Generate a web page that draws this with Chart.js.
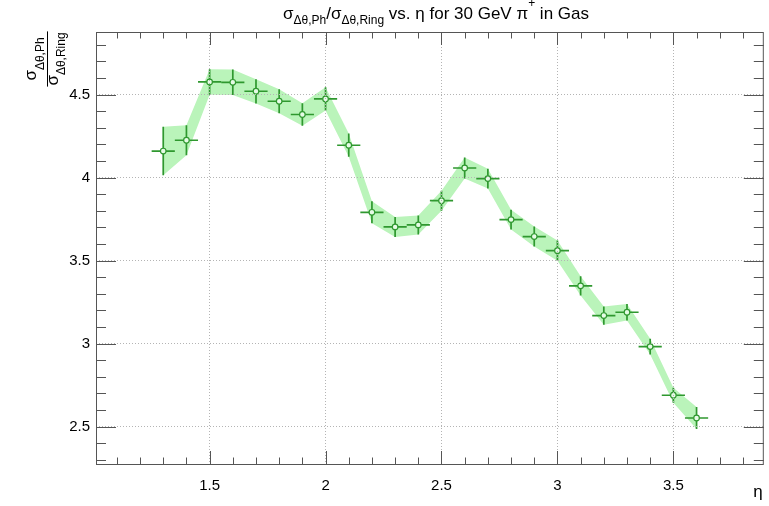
<!DOCTYPE html>
<html>
<head>
<meta charset="utf-8">
<script src="https://cdn.jsdelivr.net/npm/chart.js@4.4.1/dist/chart.umd.min.js"></script>
<style>
  html, body { margin: 0; padding: 0; background: #fff; }
  #wrap { width: 769px; height: 506px; }
</style>
</head>
<body>
<div id="wrap"><canvas id="c" width="769" height="506"></canvas></div>
<script>
// eta bin centres, measured ratio and its error
const eta = [1.3, 1.4, 1.5, 1.6, 1.7, 1.8, 1.9, 2.0, 2.1, 2.2, 2.3, 2.4,
             2.5, 2.6, 2.7, 2.8, 2.9, 3.0, 3.1, 3.2, 3.3, 3.4, 3.5, 3.6];
const ratio = [4.16, 4.225, 4.576, 4.574, 4.52, 4.46, 4.38, 4.474, 4.195, 3.791, 3.703, 3.715,
               3.861, 4.058, 3.994, 3.747, 3.645, 3.56, 3.348, 3.169, 3.189, 2.982, 2.689, 2.552];
const ratioErr = [0.146, 0.091, 0.077, 0.077, 0.073, 0.072, 0.068, 0.07, 0.07, 0.066, 0.06, 0.057,
                  0.06, 0.063, 0.06, 0.06, 0.06, 0.061, 0.058, 0.055, 0.05, 0.048, 0.045, 0.066];
const etaErr = [0.05, 0.05, 0.05, 0.05, 0.05, 0.05, 0.05, 0.05, 0.05, 0.05, 0.05, 0.05,
                0.05, 0.05, 0.05, 0.05, 0.05, 0.05, 0.05, 0.05, 0.05, 0.05, 0.05, 0.05];

const xTicks = [1.5, 2, 2.5, 3, 3.5];
const yTicks = [2.5, 3, 3.5, 4, 4.5];
const xRange = [1.01, 3.89];
const yRange = [2.275, 4.877];

const FONT = '"Liberation Sans", Arial, Helvetica, sans-serif';
const bandColor = 'rgb(186,244,186)';
const markColor = '#2f982f';
const frameColor = '#555';

// draw a run of text pieces (sub/superscripts) starting at x
function richWidth(ctx, parts) {
    let w = 0;
    parts.forEach(p => { ctx.font = p.s + 'px ' + FONT; w += ctx.measureText(p.t).width; });
    return w;
}
function drawRich(ctx, parts, x, y) {
    parts.forEach(p => {
        ctx.font = p.s + 'px ' + FONT;
        ctx.fillText(p.t, x, y + p.dy);
        x += ctx.measureText(p.t).width;
    });
}

const titleParts = [
    { t: 'σ', s: 17, dy: 0 }, { t: 'Δθ,Ph', s: 12, dy: 5 },
    { t: '/σ', s: 17, dy: 0 }, { t: 'Δθ,Ring', s: 12, dy: 5 },
    { t: ' vs. η for 30 GeV π', s: 17, dy: 0 }, { t: '+', s: 12, dy: -12 },
    { t: ' in Gas', s: 17, dy: 0 }
];
const numParts = [{ t: 'σ', s: 17, dy: 0 }, { t: 'Δθ,Ph', s: 12, dy: 8 }];
const denParts = [{ t: 'σ', s: 17, dy: 0 }, { t: 'Δθ,Ring', s: 12, dy: 7 }];

const rootPlugin = {
    id: 'rootStyle',
    beforeDatasetDraw(chart, args) {
        if (args.index !== 0) return;
        // error bars, under the markers
        const ctx = chart.ctx, xs = chart.scales.x, ys = chart.scales.y;
        ctx.save();
        ctx.strokeStyle = markColor;
        ctx.lineWidth = 1.7;
        eta.forEach((x, i) => {
            const px = xs.getPixelForValue(x), py = ys.getPixelForValue(ratio[i]);
            ctx.beginPath();
            ctx.moveTo(xs.getPixelForValue(x - etaErr[i]), py);
            ctx.lineTo(xs.getPixelForValue(x + etaErr[i]), py);
            ctx.moveTo(px, ys.getPixelForValue(ratio[i] - ratioErr[i]));
            ctx.lineTo(px, ys.getPixelForValue(ratio[i] + ratioErr[i]));
            ctx.stroke();
        });
        ctx.restore();
    },
    afterDraw(chart) {
        const ctx = chart.ctx, a = chart.chartArea;
        const xs = chart.scales.x, ys = chart.scales.y;
        ctx.save();
        // frame
        ctx.strokeStyle = frameColor;
        ctx.lineWidth = 1;
        ctx.strokeRect(a.left + 0.5, a.top + 0.5, a.right - a.left - 1, a.bottom - a.top);
        // ticks inside the frame on all four sides
        ctx.beginPath();
        for (let k = 11; k <= 38; k++) {
            const v = k / 10;
            const px = Math.round(xs.getPixelForValue(v)) + 0.5;
            const len = (k % 5 === 0) ? 13 : 6.5;
            ctx.moveTo(px, a.bottom); ctx.lineTo(px, a.bottom - len);
            ctx.moveTo(px, a.top); ctx.lineTo(px, a.top + len);
        }
        for (let k = 23; k <= 48; k++) {
            const v = k / 10;
            const py = Math.round(ys.getPixelForValue(v)) + 0.5;
            const len = (k % 5 === 0) ? 20 : 10;
            ctx.moveTo(a.left, py); ctx.lineTo(a.left + len, py);
            ctx.moveTo(a.right, py); ctx.lineTo(a.right - len, py);
        }
        ctx.stroke();

        // title
        ctx.fillStyle = '#000';
        ctx.textBaseline = 'alphabetic';
        ctx.textAlign = 'left';
        const tw = richWidth(ctx, titleParts);
        drawRich(ctx, titleParts, 436 - tw / 2, 19);

        // x axis title
        ctx.font = '17px ' + FONT;
        ctx.textAlign = 'right';
        ctx.fillText('η', a.right - 1, 497);

        // y axis title: a fraction, rotated
        ctx.textAlign = 'left';
        ctx.translate(47, 59);
        ctx.rotate(-Math.PI / 2);
        const nw = richWidth(ctx, numParts), dw = richWidth(ctx, denParts);
        drawRich(ctx, numParts, -nw / 2, -11);
        drawRich(ctx, denParts, -dw / 2, 11);
        const bw = Math.max(nw, dw) + 2;
        ctx.strokeStyle = '#000';
        ctx.lineWidth = 1;
        ctx.beginPath();
        ctx.moveTo(-bw / 2, 0.5); ctx.lineTo(bw / 2, 0.5);
        ctx.stroke();
        ctx.restore();
    }
};

new Chart(document.getElementById('c'), {
    type: 'scatter',
    data: {
        datasets: [
            {
                // points, drawn last (on top)
                data: eta.map((x, i) => ({ x: x, y: ratio[i] })),
                showLine: false, pointRadius: 2.8, pointBorderWidth: 1.2,
                pointBorderColor: markColor, pointBackgroundColor: '#e6fbe6'
            },
            {
                data: eta.map((x, i) => ({ x: x, y: ratio[i] + ratioErr[i] })),
                showLine: true, pointRadius: 0, borderWidth: 0,
                borderColor: bandColor, fill: false
            },
            {
                data: eta.map((x, i) => ({ x: x, y: ratio[i] - ratioErr[i] })),
                showLine: true, pointRadius: 0, borderWidth: 0,
                borderColor: bandColor, backgroundColor: bandColor, fill: '-1'
            }
        ]
    },
    options: {
        responsive: false,
        animation: false,
        layout: { padding: { top: 32, right: 1, left: 0, bottom: 0 } },
        plugins: { legend: { display: false }, tooltip: { enabled: false } },
        scales: {
            x: {
                type: 'linear', min: xRange[0], max: xRange[1],
                afterBuildTicks: s => { s.ticks = xTicks.map(v => ({ value: v })); },
                afterFit: s => { s.height = 42; },
                grid: { color: '#b4b4b4', lineWidth: 1, drawTicks: false, z: 1 },
                border: { display: false, dash: [1, 2] },
                ticks: { color: '#000', font: { family: FONT, size: 15 }, padding: 13, maxRotation: 0,
                         callback: v => String(v) }
            },
            y: {
                type: 'linear', min: yRange[0], max: yRange[1],
                afterBuildTicks: s => { s.ticks = yTicks.map(v => ({ value: v })); },
                afterFit: s => { s.width = 96; },
                grid: { color: '#b4b4b4', lineWidth: 1, drawTicks: false, z: 1 },
                border: { display: false, dash: [1, 2] },
                ticks: { color: '#000', font: { family: FONT, size: 15 }, padding: 6,
                         callback: v => String(v) }
            }
        }
    },
    plugins: [rootPlugin]
});
</script>
</body>
</html>
